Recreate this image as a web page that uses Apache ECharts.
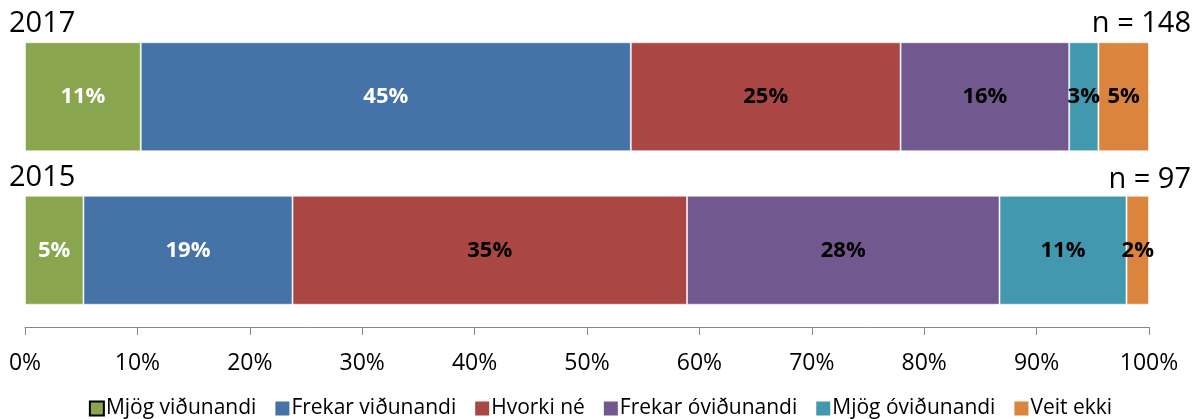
<!DOCTYPE html>
<html>
<head>
<meta charset="utf-8">
<script src="https://cdn.jsdelivr.net/npm/echarts@6/dist/echarts.min.js"></script>
<style>
  html, body { margin: 0; padding: 0; background: #fff; }
  #chart { width: 1201px; height: 419px; }
</style>
</head>
<body>
<div id="chart"></div>
<script>
// flokkar (ár) og fjöldi svarenda
var years = ['2017', '2015'];
var nCounts = ['n = 148', 'n = 97'];

// svarmöguleikar
var answers = ['Mjög viðunandi', 'Frekar viðunandi', 'Hvorki né', 'Frekar óviðunandi', 'Mjög óviðunandi', 'Veit ekki'];
var colors = ['#89a54e', '#4572a7', '#aa4643', '#71588f', '#4198af', '#db843d'];
var labelColors = ['#fff', '#fff', '#000', '#000', '#000', '#000'];

// breidd súlna (hlutfall, %) - [2017, 2015]
var shares = [
  [10.3, 5.2],
  [43.6, 18.6],
  [24.0, 35.1],
  [15.0, 27.8],
  [2.6, 11.3],
  [4.5, 2.0]
];
// birt gildi á súlum
var shownLabels = [
  [11, 5],
  [45, 19],
  [25, 35],
  [16, 28],
  [3, 11],
  [5, 2]
];

var xTicks = [0, 10, 20, 30, 40, 50, 60, 70, 80, 90, 100];

var chart = echarts.init(document.getElementById('chart'));

var series = answers.map(function (name, i) {
  return {
    name: name,
    type: 'bar',
    stack: 'total',
    barWidth: '71%',
    data: shares[i],
    itemStyle: {
      color: colors[i],
      borderColor: 'rgba(255,255,255,0.55)',
      borderWidth: 1
    },
    label: {
      show: true,
      position: 'inside',
      color: labelColors[i],
      fontFamily: 'Open Sans',
      fontWeight: 'bold',
      fontSize: 22,
      formatter: function (p) {
        return shownLabels[i][p.dataIndex] + '%';
      }
    },
    silent: true,
    animation: false
  };
});

var titleFont = { fontFamily: 'Open Sans', fontWeight: 'normal', fontSize: 29, color: '#000' };

chart.setOption({
  animation: false,
  title: [
    { text: years[0], left: 9, top: 9, padding: 0, textStyle: titleFont },
    { text: nCounts[0], right: 10, top: 9, padding: 0, textStyle: titleFont },
    { text: years[1], left: 9, top: 163, padding: 0, textStyle: titleFont },
    { text: nCounts[1], right: 10, top: 165, padding: 0, textStyle: titleFont }
  ],
  legend: {
    top: 393,
    left: 'center',
    itemWidth: 14,
    itemHeight: 14,
    itemGap: 19,
    icon: 'rect',
    textStyle: { fontFamily: 'Open Sans', fontSize: 21, color: '#000', padding: [0, 0, 0, -3] },
    data: answers.map(function (name, i) {
      return i === 0
        ? { name: name, itemStyle: { borderColor: '#000', borderWidth: 2 } }
        : { name: name, itemStyle: { borderWidth: 0 } };
    })
  },
  grid: {
    left: 25,
    right: 52,
    top: 20,
    height: 307
  },
  xAxis: {
    type: 'value',
    min: 0,
    max: 100,
    interval: 10,
    splitLine: { show: false },
    axisLine: { show: true, lineStyle: { color: '#888', width: 1 } },
    axisTick: { show: true, length: 8, lineStyle: { color: '#888' } },
    axisLabel: {
      color: '#000',
      fontFamily: 'Open Sans',
      fontSize: 23,
      margin: 25,
      formatter: function (v) { return xTicks.indexOf(v) >= 0 ? v + '%' : ''; }
    }
  },
  yAxis: {
    type: 'category',
    inverse: true,
    data: years,
    axisLine: { show: false },
    axisTick: { show: false },
    axisLabel: { show: false }
  },
  series: series
});
</script>
</body>
</html>
